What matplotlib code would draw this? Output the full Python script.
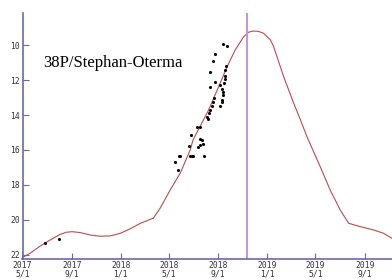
import matplotlib
matplotlib.use("Agg")
import matplotlib.pyplot as plt
import matplotlib.dates as mdates
import numpy as np
import datetime as dt

# model light curve (date, magnitude)
curve_dates = ["2017-04-29", "2017-05-20", "2017-06-14", "2017-07-09", "2017-08-03",
               "2017-08-18", "2017-09-02", "2017-09-22", "2017-10-17", "2017-11-11",
               "2017-12-06", "2017-12-31", "2018-01-25", "2018-02-19", "2018-03-16",
               "2018-03-23", "2018-04-09", "2018-05-04", "2018-05-29", "2018-06-23",
               "2018-06-30", "2018-08-08", "2018-09-02", "2018-09-23", "2018-10-13",
               "2018-11-03", "2018-11-16", "2018-11-28", "2018-12-10", "2018-12-23",
               "2019-01-09", "2019-01-17", "2019-02-11", "2019-03-08", "2019-03-25",
               "2019-04-10", "2019-05-13", "2019-06-07", "2019-07-02", "2019-07-23",
               "2019-08-21", "2019-09-23", "2019-10-18", "2019-11-08", "2019-11-20"]
curve_mags = [22.17, 21.90, 21.49, 21.14, 20.82,
              20.70, 20.67, 20.72, 20.86, 20.93,
              20.91, 20.76, 20.50, 20.19, 19.96,
              19.90, 19.33, 18.29, 17.33, 16.00,
              15.43, 13.71, 12.38, 11.24, 10.29,
              9.53, 9.26, 9.20, 9.22, 9.33,
              9.71, 10.10, 11.81, 13.33, 14.29,
              15.24, 16.95, 18.29, 19.43, 20.19,
              20.38, 20.57, 20.76, 21.05, 21.20]

# observations
obs_dates = ["2017-06-27", "2017-07-31", "2018-05-24", "2018-05-16", "2018-05-27",
             "2018-06-21", "2018-06-22", "2018-06-27", "2018-06-30", "2018-07-13",
             "2018-07-17", "2018-07-26", "2018-07-27", "2018-07-22", "2018-06-25",
             "2018-07-11", "2018-07-17", "2018-08-03", "2018-08-08", "2018-08-12",
             "2018-08-16", "2018-08-20", "2018-08-22", "2018-08-12", "2018-08-25",
             "2018-09-06", "2018-09-10", "2018-09-12", "2018-09-16", "2018-09-18",
             "2018-09-17", "2018-09-18", "2018-09-21", "2018-08-12", "2018-08-18",
             "2018-08-25", "2018-09-13", "2018-09-22", "2018-09-10", "2018-09-06",
             "2018-09-14", "2018-05-29", "2018-09-10", "2018-08-06", "2018-07-17"]
obs_mags = [21.33, 21.09, 17.14, 16.67, 16.33,
            15.77, 16.33, 16.33, 16.33, 15.81,
            15.71, 15.66, 16.33, 15.43, 15.14,
            14.70, 14.67, 14.10, 13.90, 13.71,
            13.49, 13.24, 13.03, 12.38, 12.11,
            12.29, 12.54, 12.69, 12.19, 11.94,
            11.77, 11.43, 11.20, 11.53, 10.94,
            10.49, 9.94, 10.03, 13.14, 13.51,
            12.86, 16.34, 13.26, 14.20, 15.39]

perihelion = "2018-11-12"
title = "38P/Stephan-Oterma"
tick_dates = ["2017-05-01", "2017-09-01", "2018-01-01", "2018-05-01", "2018-09-01",
              "2019-01-01", "2019-05-01", "2019-09-01"]
tick_labels = ["2017\n5/1", "2017\n9/1", "2018\n1/1", "2018\n5/1", "2018\n9/1",
               "2019\n1/1", "2019\n5/1", "2019\n9/1"]
ytick_vals = [10, 12, 14, 16, 18, 20, 22]

def d(s):
    return dt.datetime.strptime(s, "%Y-%m-%d")

fig = plt.figure(figsize=(3.92, 2.8), dpi=100)
ax = fig.add_axes([22.5/392, 21/280, 1 - 22.5/392, 246/280])

ax.plot([d(s) for s in curve_dates], curve_mags, color="#c04a4a", lw=0.8)
ax.scatter([d(s) for s in obs_dates], obs_mags, s=5, color="black", zorder=3, linewidths=0)
ax.axvline(d(perihelion), color="#c890e0", lw=1.4)

ax.set_xlim(d("2017-05-01"), d("2019-11-08"))
ax.set_ylim(22.23, 8.17)

ax.set_xticks([d(s) for s in tick_dates])
ax.set_xticklabels(tick_labels, family="DejaVu Sans Mono", fontsize=5.8, color="#333333",
                   linespacing=0.9)
ax.set_yticks(ytick_vals)
ax.set_yticklabels([str(v) for v in ytick_vals], family="DejaVu Sans Mono", fontsize=5.8,
                   color="#333333")
ax.tick_params(direction="in", length=4, width=0.8, color="#6868b0", pad=2)
ax.tick_params(axis="x", pad=1.5)

for side in ["top", "right"]:
    ax.spines[side].set_visible(False)
for side in ["left", "bottom"]:
    ax.spines[side].set_color("#6868b0")
    ax.spines[side].set_linewidth(1.2)

ax.text(43/392, (280-67)/280, title, transform=fig.transFigure, family="Liberation Serif",
        fontsize=12, color="black", va="baseline", ha="left")

fig.savefig("out.png", dpi=100, facecolor="white")
